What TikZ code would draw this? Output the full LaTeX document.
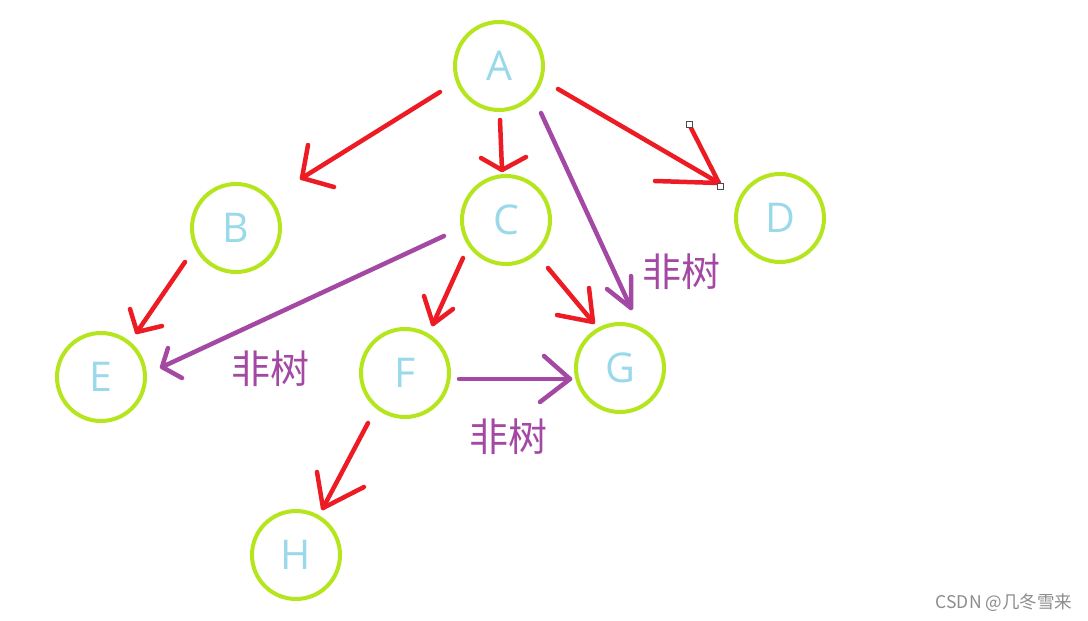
\documentclass[tikz,border=0pt]{standalone}
\usepackage{fontspec}
\setmainfont{Open Sans}
\newfontfamily\cjk{Noto Sans CJK SC}
\definecolor{nodegreen}{HTML}{B5E61D}
\definecolor{labelblue}{HTML}{99D9EA}
\definecolor{treered}{HTML}{ED1C24}
\definecolor{nontree}{HTML}{A349A4}
\begin{document}
\begin{tikzpicture}[x=1pt,y=-1pt,
  vertex/.style={circle,draw=nodegreen,line width=4pt,minimum size=88pt,inner sep=0pt,
    text=labelblue,font=\fontsize{41}{41}\selectfont},
  redline/.style={draw=treered,line width=4.5pt,line cap=round,line join=round},
  purpline/.style={draw=nontree,line width=4.5pt,line cap=round,line join=round},
  nonlabel/.style={text=nontree,font=\cjk\fontsize{39}{39}\selectfont,inner sep=0pt},
  handle/.style={draw=black!70,fill=white,line width=0.8pt,minimum size=6pt,inner sep=0pt}]
\useasboundingbox[fill=white] (0,0) rectangle (1088,621);

% nodes
\node[vertex] (A) at (499,66) {A};
\node[vertex] (B) at (236,228) {B};
\node[vertex] (C) at (506,220) {C};
\node[vertex] (D) at (780,218) {D};
\node[vertex] (E) at (101,377) {E};
\node[vertex] (F) at (405,373) {F};
\node[vertex] (G) at (620,368) {G};
\node[vertex] (H) at (296,555) {H};

% connector end points
\coordinate (sAB) at (440,92);  \coordinate (tAB) at (302,178);
\coordinate (aAB1) at (308,145); \coordinate (aAB2) at (334,187);
\coordinate (sAC) at (500,120);  \coordinate (tAC) at (502,170);
\coordinate (aAC1) at (481,158); \coordinate (aAC2) at (526,157);
\coordinate (sAD) at (558,89);   \coordinate (tAD) at (719,183);
\coordinate (aAD1) at (689,124); \coordinate (aAD2) at (655,181);
\coordinate (sAG) at (541,113);  \coordinate (tAG) at (631,308);
\coordinate (aAG1) at (631,276); \coordinate (aAG2) at (607,289);
\coordinate (sBE) at (185,262);  \coordinate (tBE) at (137,332);
\coordinate (aBE1) at (130,309); \coordinate (aBE2) at (162,326);
\coordinate (sCE) at (444,236);  \coordinate (tCE) at (162,367);
\coordinate (aCE1) at (168,348); \coordinate (aCE2) at (182,378);
\coordinate (sCF) at (463,258);  \coordinate (tCF) at (433,324);
\coordinate (aCF1) at (424,296); \coordinate (aCF2) at (453,309);
\coordinate (sCG) at (548,268);  \coordinate (tCG) at (593,322);
\coordinate (aCG1) at (589,288); \coordinate (aCG2) at (557,315);
\coordinate (sFG) at (459,379);  \coordinate (tFG) at (570,379);
\coordinate (aFG1) at (544,356); \coordinate (aFG2) at (540,402);
\coordinate (sFH) at (368,423);  \coordinate (tFH) at (323,508);
\coordinate (aFH1) at (317,472); \coordinate (aFH2) at (364,487);

% tree edges (red)
\draw[redline] (sAB) -- (tAB); \draw[redline] (aAB1) -- (tAB) -- (aAB2);
\draw[redline] (sAC) -- (tAC); \draw[redline] (aAC1) -- (tAC) -- (aAC2);
\draw[redline] (sAD) -- (tAD); \draw[redline] (aAD1) -- (tAD) -- (aAD2);
\draw[redline] (sBE) -- (tBE); \draw[redline] (aBE1) -- (tBE) -- (aBE2);
\draw[redline] (sCF) -- (tCF); \draw[redline] (aCF1) -- (tCF) -- (aCF2);
\draw[redline] (sCG) -- (tCG); \draw[redline] (aCG1) -- (tCG) -- (aCG2);
\draw[redline] (sFH) -- (tFH); \draw[redline] (aFH1) -- (tFH) -- (aFH2);

% non-tree edges (purple)
\draw[purpline] (sAG) -- (tAG); \draw[purpline] (aAG1) -- (tAG) -- (aAG2);
\draw[purpline] (sCE) -- (tCE); \draw[purpline] (aCE1) -- (tCE) -- (aCE2);
\draw[purpline] (sFG) -- (tFG); \draw[purpline] (aFG1) -- (tFG) -- (aFG2);

% selection handles
\node[handle] (h1) at (aAD1) {};
\node[handle] (h2) at (720,186) {};

% labels
\node[nonlabel] (l1) at (270,369) {非树};
\node[nonlabel] (l2) at (681,272) {非树};
\node[nonlabel] (l3) at (508,437) {非树};

\node[text=black!45,font=\cjk\fontsize{17.5}{17.5}\selectfont,inner sep=0pt] (wm) at (1004,603) {CSDN @几冬雪来};
\end{tikzpicture}
\end{document}
